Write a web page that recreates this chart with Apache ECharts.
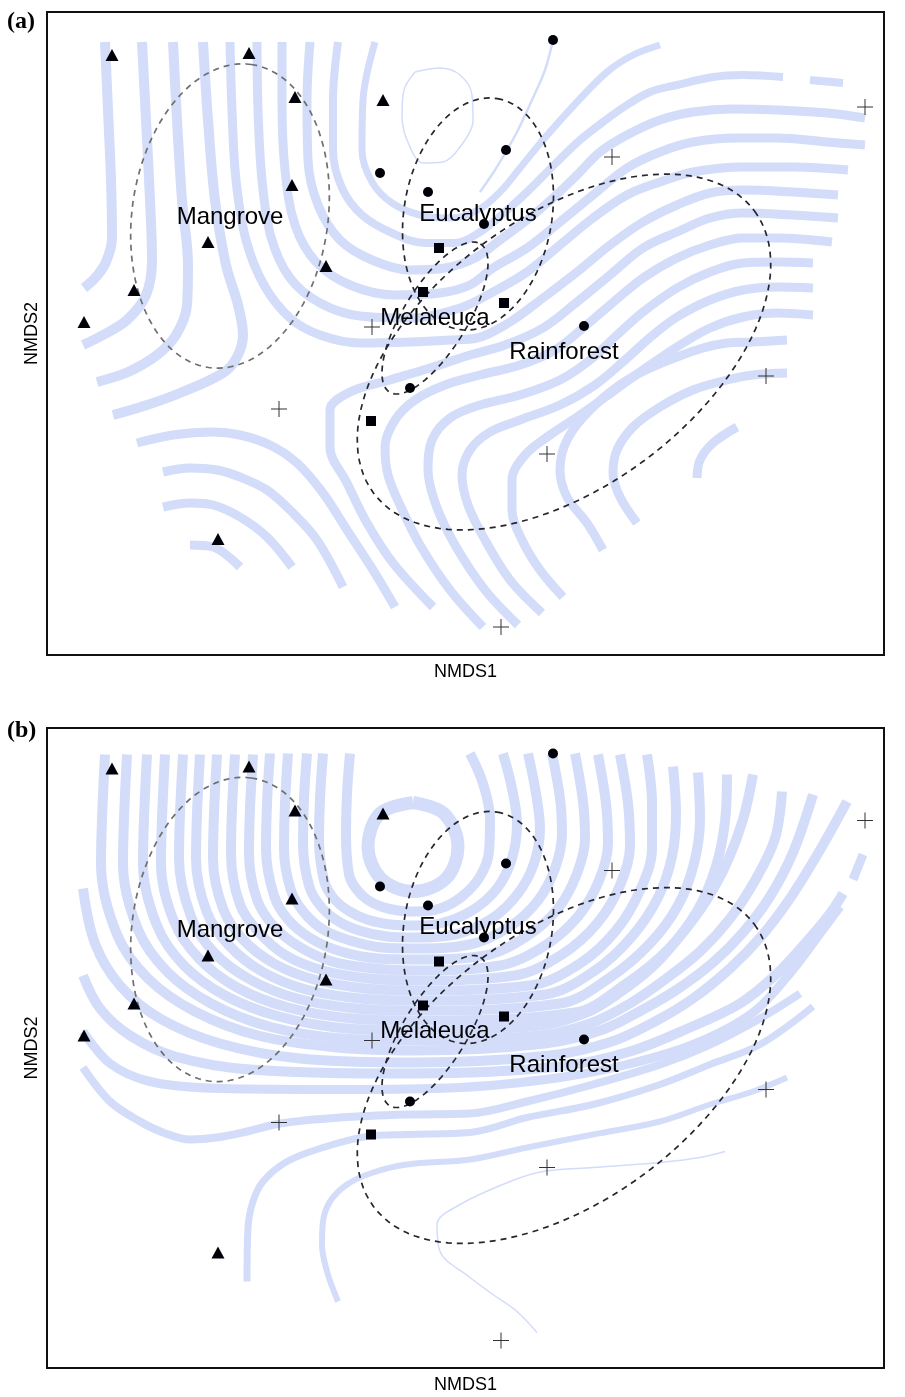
<!DOCTYPE html>
<html>
<head>
<meta charset="utf-8">
<script src="https://cdn.jsdelivr.net/npm/echarts@6/dist/echarts.min.js"></script>
<style>
  html, body { margin: 0; padding: 0; background: #fff; }
  #chart { width: 905px; height: 1397px; }
</style>
</head>
<body>
<div id="chart"></div>
<script>
// site scores (NMDS1, NMDS2); NMDS2 grows downwards on screen
const mangrove = [[112,55],[249,53],[295,97],[383,100],[292,185],[208,242],[326,266],[134,290],[84,322],[218,539]]
const eucalyptus = [[553,40],[506,150],[380,173],[428,192],[484,224],[584,326],[410,388]]
const melaleuca = [[439,248],[423,292],[504,303],[371,421]]
const rainforest = [[865,107],[612,157],[372,327],[279,409],[766,376],[547,454],[501,627]]

const groupNames = ['Mangrove', 'Eucalyptus', 'Melaleuca', 'Rainforest']
const groupCentres = [[230,217],[478,214],[435,318],[564,352]]

// ordiellipse: centre, semi axes, tilt of the long axis (deg)
const ellipseCentres = [[230,216],[478,214],[435,318],[564,352]]
const ellipseAxes = [[153,98],[117,74],[87,32],[237,135]]
const ellipseTilt = [-82, -80.5, -58.5, -36.5]

// fitted surface contours, panel (a)
const contoursA = [
  [[105,42],[108,110],[111,180],[112,238],[106,262],[96,277],[84,288]],
  [[142,42],[146,120],[150,200],[152,260],[146,295],[127,320],[103,335],[83,345]],
  [[173,42],[177,120],[182,200],[188,265],[187,305],[176,335],[157,355],[128,372],[97,382]],
  [[203,42],[208,120],[215,200],[226,265],[238,305],[243,335],[237,357],[223,373],[180,393],[147,405],[113,415]],
  [[230,42],[232,110],[236,180],[246,240],[264,285],[290,318],[320,335],[360,343],[410,342],[450,340],[477,338],[510,322],[543,298],[577,272],[610,245],[643,222],[677,205],[710,193],[743,190],[793,192],[838,195]],
  [[257,42],[258,110],[262,180],[271,237],[290,278],[320,303],[360,316],[410,318],[460,308],[493,292],[527,272],[560,245],[593,218],[627,195],[660,182],[693,172],[743,167],[793,167],[848,170]],
  [[282,42],[282,100],[285,170],[295,225],[316,262],[350,285],[395,295],[440,293],[470,285],[493,268],[527,248],[560,222],[593,195],[627,168],[660,152],[693,142],[737,138],[777,138],[827,142],[865,145]],
  [[310,42],[307,100],[308,160],[318,205],[340,240],[372,260],[410,270],[445,268],[475,258],[500,240],[527,220],[553,198],[577,175],[600,152],[627,135],[660,120],[693,112],[733,109],[777,110],[827,113],[865,118]],
  [[338,42],[333,100],[333,150],[342,188],[362,215],[392,233],[425,243],[455,243],[480,232],[505,212],[527,192],[557,162],[580,140],[603,122],[627,105],[650,92],[677,85],[713,77],[743,75],[783,77]],
  [[810,80],[843,83]],
  [[375,42],[363,100],[362,150],[372,182],[392,203],[420,215],[450,218],[478,210],[500,192],[520,168],[543,140],[577,102],[607,72],[633,55],[660,45]],
  [[838,218],[793,215],[743,213],[710,218],[677,232],[643,248],[610,275],[577,302],[543,328],[505,345],[470,355],[430,368],[390,380],[350,392],[330,410],[330,447],[347,483],[367,523],[393,563],[433,607]],
  [[832,242],[777,238],[743,238],[710,245],[677,258],[643,278],[610,305],[583,328],[555,350],[520,365],[480,375],[445,385],[415,400],[395,420],[385,447],[388,475],[400,505],[420,545],[450,590],[483,627]],
  [[813,263],[777,262],[743,263],[710,272],[677,288],[643,312],[617,335],[590,360],[560,380],[520,395],[480,405],[450,418],[432,440],[428,470],[436,505],[455,545],[485,590],[518,625]],
  [[813,288],[777,287],[743,290],[710,300],[677,317],[653,335],[625,360],[595,385],[560,405],[520,420],[490,432],[470,450],[462,475],[468,505],[485,540],[510,580],[542,613]],
  [[813,315],[777,313],[743,317],[710,328],[680,345],[650,365],[615,390],[580,415],[550,435],[525,455],[512,480],[512,510],[522,540],[540,570],[563,597]],
  [[787,340],[753,342],[727,343],[677,357],[627,380],[590,410],[567,440],[560,470],[567,497],[587,523],[603,550]],
  [[787,373],[753,375],[727,380],[693,390],[660,407],[633,427],[617,450],[613,473],[620,497],[637,523]],
  [[737,427],[713,443],[700,460],[697,478]],
  [[137,443],[173,435],[213,432],[240,435],[270,445],[297,463],[323,493],[347,530],[373,570],[395,607]],
  [[163,472],[190,468],[217,470],[240,477],[267,490],[293,513],[317,540],[343,587]],
  [[163,507],[190,503],[213,505],[240,517],[267,537],[292,567]],
  [[190,545],[213,547],[240,567]],
  [[415,72],[440,68],[460,75],[472,95],[473,120],[460,147],[443,162],[423,163],[407,140],[402,115],[404,90],[415,72]],
  [[553,40],[545,70],[532,100],[518,130],[507,150],[495,170],[480,192]]
]
const widthsA = [10,10,10,10, 9,9,9,9,8,8,7, 9,9,9,9,9,9,9,9, 9,9,9,9, 1.5,2.5]

// fitted surface contours, panel (b)
const contoursB = [
  [[413,89],[444,100],[458,133],[446,165],[413,178],[381,165],[368,133],[380,100],[413,89]],
  [[350,40],[347,80],[346,120],[349,161],[356,175],[367,186],[381,193],[398,197],[415,198],[440,195],[462,183],[480,163],[489,138],[490,105],[483,70],[470,40]],
  [[323,40],[320,85],[319,125],[324,167],[333,184],[348,197],[367,206],[391,211],[415,212],[440,210],[472,197],[497,175],[512,145],[517,110],[512,75],[503,40]],
  [[307,40],[304,85],[303,130],[309,172],[320,192],[337,207],[359,217],[387,223],[415,224],[455,221],[492,205],[518,180],[534,150],[540,115],[536,80],[528,40]],
  [[288,40],[285,90],[284,135],[291,177],[304,199],[323,216],[350,227],[382,234],[415,235],[470,231],[510,213],[538,187],[555,155],[562,120],[560,85],[552,40]],
  [[270,40],[267,90],[266,135],[274,182],[288,206],[311,225],[341,238],[378,245],[415,246],[485,242],[528,222],[558,195],[577,160],[585,125],[583,88],[575,40]],
  [[253,41],[250,95],[249,140],[257,186],[274,213],[299,233],[332,248],[374,255],[415,257],[500,252],[545,232],[578,203],[599,167],[608,130],[606,90],[598,41]],
  [[235,41],[232,95],[231,140],[240,191],[259,219],[286,242],[323,257],[369,265],[415,267],[515,262],[562,241],[597,210],[620,172],[630,132],[628,90],[620,41]],
  [[217,41],[214,100],[213,145],[223,195],[243,226],[274,250],[314,266],[365,275],[415,277],[530,272],[580,250],[616,217],[640,177],[652,135],[652,90],[647,41]],
  [[200,41],[197,100],[196,145],[207,199],[229,232],[262,258],[306,276],[360,285],[415,287],[545,281],[595,257],[632,223],[658,184],[672,143],[676,100],[673,53]],
  [[183,41],[180,100],[179,145],[191,203],[214,239],[250,266],[297,285],[356,295],[415,297],[560,290],[610,264],[650,230],[678,192],[694,150],[700,105],[698,59]],
  [[165,41],[162,105],[161,150],[174,208],[199,245],[237,274],[288,294],[352,305],[415,307],[575,299],[625,271],[668,236],[698,196],[716,153],[725,108],[727,61]],
  [[147,41],[144,105],[143,150],[157,212],[184,252],[225,282],[279,303],[347,315],[415,317],[540,312],[587,299],[620,279],[653,253],[683,219],[707,186],[727,149],[743,106],[753,61]],
  [[127,41],[124,105],[123,150],[138,216],[167,258],[211,290],[269,313],[342,325],[415,327],[540,322],[590,310],[630,290],[665,266],[700,238],[730,205],[755,167],[775,125],[782,78]],
  [[105,41],[102,106],[101,150],[117,221],[148,265],[195,298],[258,322],[337,334],[415,337],[545,330],[603,316],[643,296],[677,276],[713,249],[743,219],[770,183],[793,139],[813,81]],
  [[83,175],[95,230],[120,272],[160,305],[220,330],[300,345],[415,349],[550,342],[612,328],[655,308],[693,285],[730,255],[762,222],[790,185],[815,145],[835,110],[847,88]],
  [[83,262],[100,295],[130,322],[175,343],[250,356],[415,360],[560,353],[630,338],[690,314],[740,290],[775,262],[805,230],[830,200],[843,180]],
  [[863,141],[853,166]],
  [[83,318],[110,350],[150,368],[220,375],[340,376],[460,374],[560,364],[627,351],[693,331],[753,299],[793,256],[820,220],[840,193]],
  [[83,354],[110,388],[140,408],[163,419],[190,426],[217,424],[247,418],[280,410],[340,404],[407,401],[470,400],[527,388],[593,371],[660,351],[710,331],[760,305],[800,280]],
  [[247,568],[248,514],[253,488],[263,468],[287,448],[323,434],[367,423],[407,421],[470,419],[527,404],[593,391],[660,371],[710,351],[760,331],[813,293]],
  [[338,588],[327,558],[322,531],[323,508],[330,488],[347,471],[373,459],[407,451],[470,446],[527,434],[593,421],[660,408],[710,391],[753,378],[787,364]],
  [[725,438],[700,444],[660,449],[593,454],[543,458],[510,468],[460,491],[437,511],[440,538],[470,564],[493,581],[517,598],[537,619]]
]
const widthsB = [13, 10,10,10,10,10,10,10,10,10,10,10,10,10,10,10,10, 9, 9,8,7,6,1.5]

const contourColor = '#d3ddfa'
const plusPath = 'path://M0,7.5H16V8.5H0Z M7.5,0H8.5V16H7.5Z'

function ellipsePoints (c, ax, tilt) {
  let th = tilt * Math.PI / 180
  let pts = []
  for (let t = 0; t <= 360; t += 3) {
    let r = t * Math.PI / 180
    pts.push([
      c[0] + ax[0] * Math.cos(r) * Math.cos(th) - ax[1] * Math.sin(r) * Math.sin(th),
      c[1] + ax[0] * Math.cos(r) * Math.sin(th) + ax[1] * Math.sin(r) * Math.cos(th)
    ])
  }
  return pts
}

function panelSeries (idx, contours, widths) {
  let series = []
  contours.forEach((line, i) => {
    series.push({
      type: 'line',
      xAxisIndex: idx,
      yAxisIndex: idx,
      data: line,
      smooth: 0.35,
      symbol: 'none',
      silent: true,
      z: 1,
      lineStyle: { color: contourColor, width: widths[i], cap: 'butt', join: 'round', opacity: 1 }
    })
  })
  ellipseCentres.forEach((c, i) => {
    series.push({
      type: 'line',
      xAxisIndex: idx,
      yAxisIndex: idx,
      data: ellipsePoints(c, ellipseAxes[i], ellipseTilt[i]),
      symbol: 'none',
      silent: true,
      z: 3,
      lineStyle: { color: i === 0 ? '#6f6f6f' : '#26262e', width: 1.7, type: [6, 5], opacity: 1 }
    })
  })
  let marks = [
    [mangrove, 'triangle', [13, 12], '#000008'],
    [eucalyptus, 'circle', 10, '#000008'],
    [melaleuca, 'rect', 10, '#000008'],
    [rainforest, plusPath, 16, '#333']
  ]
  marks.forEach(m => {
    series.push({
      type: 'scatter',
      xAxisIndex: idx,
      yAxisIndex: idx,
      data: m[0],
      symbol: m[1],
      symbolSize: m[2],
      silent: true,
      z: 4,
      itemStyle: { color: m[3], opacity: 1 }
    })
  })
  series.push({
    type: 'scatter',
    xAxisIndex: idx,
    yAxisIndex: idx,
    data: groupNames.map((n, i) => ({ name: n, value: groupCentres[i] })),
    symbolSize: 0,
    silent: true,
    z: 5,
    itemStyle: { opacity: 1 },
    label: {
      show: true,
      position: 'inside',
      formatter: '{b}',
      color: '#000',
      opacity: 1,
      fontSize: 24,
      fontFamily: 'Liberation Sans, Arial, sans-serif'
    }
  })
  return series
}

function axisPair (idx, ymin, ymax) {
  let nameStyle = { color: '#000', fontSize: 18, fontFamily: 'Liberation Sans, Arial, sans-serif' }
  return {
    x: {
      type: 'value', gridIndex: idx, min: 47, max: 884,
      name: 'NMDS1', nameLocation: 'middle', nameGap: 8, nameTextStyle: nameStyle,
      axisLine: { show: false }, axisTick: { show: false }, axisLabel: { show: false }, splitLine: { show: false }
    },
    y: {
      type: 'value', gridIndex: idx, min: ymin, max: ymax, inverse: true,
      name: 'NMDS2', nameLocation: 'middle', nameGap: 6, nameTextStyle: nameStyle,
      axisLine: { show: false }, axisTick: { show: false }, axisLabel: { show: false }, splitLine: { show: false }
    }
  }
}

let myChart = echarts.init(document.getElementById('chart'))
let axA = axisPair(0, 12, 655)
let axB = axisPair(1, 14.5, 654.5)
let option = {
  animation: false,
  backgroundColor: '#fff',
  title: [
    { text: '(a)', left: 7, top: 10, padding: 0, textStyle: { fontFamily: 'Liberation Serif, serif', fontWeight: 'bold', fontSize: 24, color: '#000' } },
    { text: '(b)', left: 7, top: 719, padding: 0, textStyle: { fontFamily: 'Liberation Serif, serif', fontWeight: 'bold', fontSize: 24, color: '#000' } }
  ],
  grid: [
    { left: 47, top: 12, width: 837, height: 643, show: true, borderColor: '#111', borderWidth: 2, backgroundColor: 'transparent' },
    { left: 47, top: 728, width: 837, height: 640, show: true, borderColor: '#111', borderWidth: 2, backgroundColor: 'transparent' }
  ],
  xAxis: [axA.x, axB.x],
  yAxis: [axA.y, axB.y],
  series: panelSeries(0, contoursA, widthsA).concat(panelSeries(1, contoursB, widthsB))
}
myChart.setOption(option)
</script>
</body>
</html>
